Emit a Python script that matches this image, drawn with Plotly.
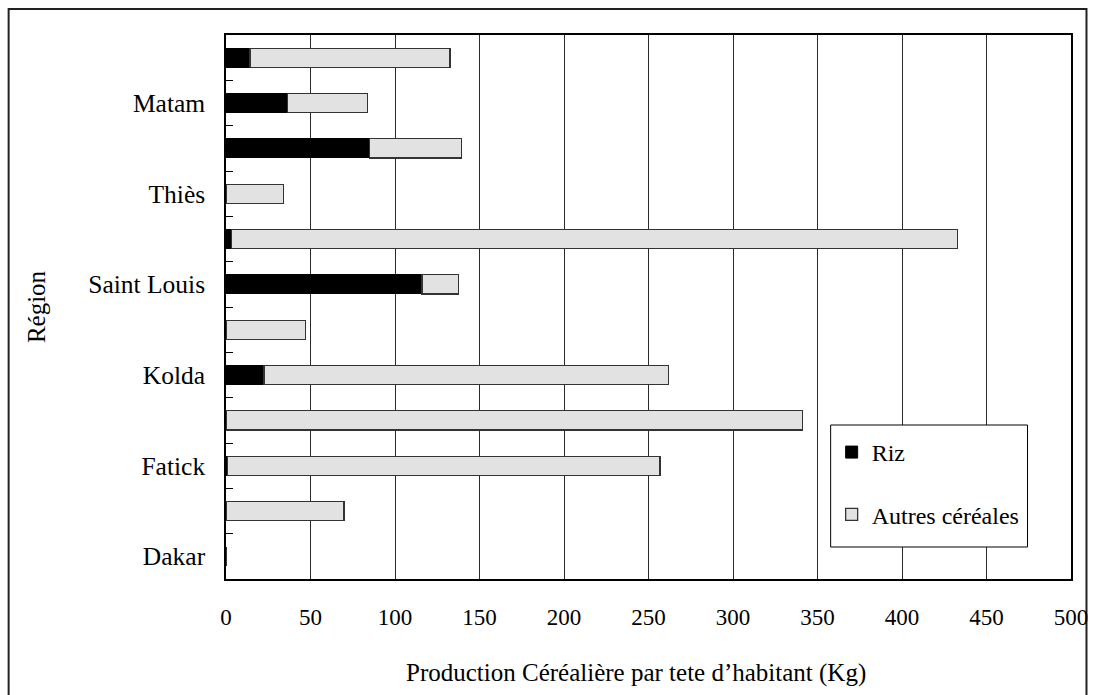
import plotly.graph_objects as go

# Categories from bottom to top
regions = ["Dakar", "Diourbel", "Fatick", "Kaolack", "Kolda", "Louga",
           "Saint Louis", "Tambacounda", "Thiès", "Ziguinchor", "Matam", "Sénégal"]
shown_labels = ["Dakar", "", "Fatick", "", "Kolda", "",
                "Saint Louis", "", "Thiès", "", "Matam", ""]
riz = [0, 0, 0.8, 0, 22.5, 0, 116, 3.4, 0, 85, 36.5, 14.2]
autres = [0, 69.8, 256, 341.2, 239.5, 47.1, 21.4, 429.5, 33.9, 54.4, 47.3, 118.3]
x_ticks = [0, 50, 100, 150, 200, 250, 300, 350, 400, 450, 500]
x_title = "Production Céréalière par tete d’habitant (Kg)"
y_title = "Région"

FONT = "Times New Roman, Liberation Serif, serif"

fig = go.Figure()
fig.add_trace(go.Bar(
    y=regions, x=riz, orientation="h", name="Riz",
    marker=dict(color="#000000", line=dict(color="#000000", width=1)),
    width=0.42, legendgroup="a"))
fig.add_trace(go.Bar(
    y=regions, x=autres, orientation="h", name="Autres céréales",
    marker=dict(color="#e2e2e2", line=dict(color="#333333", width=1.3)),
    width=0.42, legendgroup="b"))

L, R, T, B = 226, 23.5, 35, 116
W, H = 1095, 695
pw = W - L - R
ph = H - T - B


def px(x):
    return (x - L) / pw


def py(y):
    return (H - B - y) / ph


fig.update_layout(
    width=W, height=H,
    barmode="stack",
    margin=dict(l=L, r=R, t=T, b=B, autoexpand=False),
    paper_bgcolor="white", plot_bgcolor="white",
    font=dict(family=FONT, size=24, color="#000000"),
    showlegend=True,
    legend=dict(
        x=px(832), y=py(430), xanchor="left", yanchor="top",
        bgcolor="rgba(0,0,0,0)", borderwidth=0,
        traceorder="grouped", tracegroupgap=28,
        font=dict(family=FONT, size=24, color="#000000"),
    ),
)

fig.update_xaxes(
    range=[0, 500], tickvals=x_ticks, ticktext=[str(v) for v in x_ticks],
    showgrid=True, gridcolor="#2a2a2a", gridwidth=1,
    showline=True, linecolor="#000000", linewidth=1.5, mirror=True,
    ticks="", ticklabelstandoff=17, zeroline=False, automargin=False,
    tickfont=dict(family=FONT, size=23),
)
fig.update_yaxes(
    type="category", categoryorder="array", categoryarray=regions,
    tickvals=regions, ticktext=shown_labels,
    tickson="boundaries", ticks="inside", ticklen=7, tickcolor="#000000", tickwidth=1,
    showline=True, linecolor="#000000", linewidth=1.5, mirror=True,
    showgrid=False, ticklabelstandoff=14, automargin=False,
    title=dict(text=y_title, font=dict(family=FONT, size=25), standoff=36),
    tickfont=dict(family=FONT, size=25.5),
)

# x-axis title (slightly left of the plot centre, as in the original)
fig.add_annotation(text=x_title, xref="paper", yref="paper",
                   x=px(636), y=py(673), xanchor="center", yanchor="middle",
                   showarrow=False, font=dict(family=FONT, size=25, color="#000000"))

# outer frame of the picture
fig.add_shape(type="rect", xref="paper", yref="paper",
              x0=px(8.5), x1=px(1087), y0=py(705), y1=py(9),
              line=dict(color="#222222", width=2), fillcolor="rgba(0,0,0,0)",
              layer="below")
# legend box
fig.add_shape(type="rect", xref="paper", yref="paper",
              x0=px(831), x1=px(1028), y0=py(547), y1=py(425),
              line=dict(color="#000000", width=1), fillcolor="white",
              layer="above")

fig.write_html("out.html")
